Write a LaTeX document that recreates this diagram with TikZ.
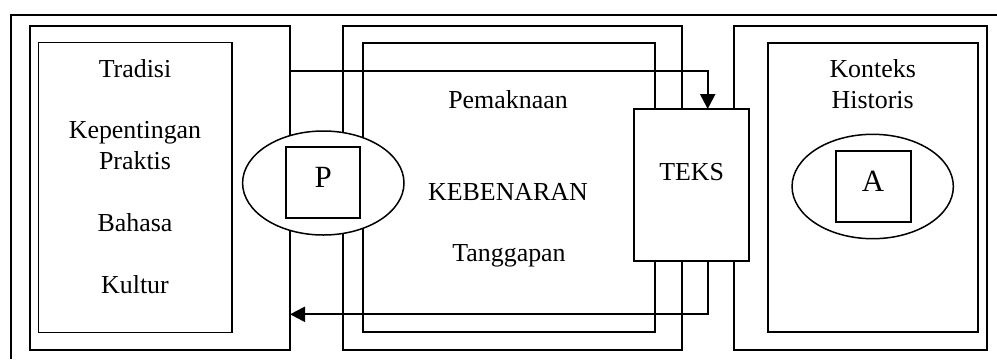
\documentclass[tikz,border=0pt]{standalone}
\usepackage{fontspec}
\setmainfont{Liberation Serif}
\usetikzlibrary{arrows.meta,shapes.geometric}

\tikzset{
  panel/.style={draw, line width=1.8bp, rectangle, inner sep=0pt, outer sep=0pt},
  oval/.style={draw, line width=1.5bp, ellipse, fill=white, inner sep=0pt, outer sep=0pt},
  lbl/.style={inner sep=0pt, anchor=base, font=\fontsize{26}{30}\selectfont},
  biglbl/.style={inner sep=0pt, anchor=base, font=\fontsize{31}{36}\selectfont},
  flow/.style={line width=2.2bp, -{Triangle[length=15bp,width=15bp]}},
}

\begin{document}
\begin{tikzpicture}[x=1bp, y=-1bp]
  \useasboundingbox (0,0) rectangle (997,359);
  \fill[white] (0,0) rectangle (997,359);

  % enclosing frame (open to the right and bottom)
  \draw[line width=2.2bp] (11,359) -- (11,15) -- (997,15);

  % left column
  \node[panel, minimum width=260bp, minimum height=324.3bp] (lo) at (160,187.85) {};
  \node[panel, minimum width=193.5bp, minimum height=290bp] (li) at (135.25,187.5) {};
  % middle column
  \node[panel, minimum width=339bp, minimum height=324.3bp] (mo) at (512.2,187.85) {};
  \node[panel, minimum width=292.3bp, minimum height=289.6bp] (mi) at (508.85,187.5) {};
  % right column
  \node[panel, minimum width=252.4bp, minimum height=324.3bp] (ro) at (860.5,187.85) {};
  \node[panel, minimum width=210bp, minimum height=289.3bp] (ri) at (872.7,187.35) {};

  % left column labels
  \node[lbl] (tradisi) at (135,77) {Tradisi};
  \node[lbl] (kep) at (135,138.5) {Kepentingan};
  \node[lbl] (praktis) at (135,169.5) {Praktis};
  \node[lbl] (bahasa) at (135,231.5) {Bahasa};
  \node[lbl] (kultur) at (135,293) {Kultur};

  % middle column labels
  \node[lbl] (makna) at (508,108.3) {Pemaknaan};
  \node[lbl] (benar) at (508,200) {KEBENARAN};
  \node[lbl] (tanggap) at (509,261.7) {Tanggapan};

  % right column labels
  \node[lbl] (konteks) at (872.7,77.3) {Konteks};
  \node[lbl] (hist) at (872.7,108.3) {Historis};

  % connectors
  \coordinate (topy) at (0,70.7);
  \coordinate (boty) at (0,314.3);
  \coordinate (arrx) at (707.7,0);

  % text box
  \node[panel, fill=white, minimum width=115.3bp, minimum height=152bp] (teks) at (691.65,185) {};
  \node[lbl] (tekslbl) at (691.7,180) {TEKS};

  \draw[flow] (lo.east |- topy) -| (teks.north -| arrx);
  \draw[flow] (teks.south -| arrx) |- (lo.east |- boty);

  % P: ellipse with square
  \node[oval, minimum width=161.4bp, minimum height=104bp] (pell) at (323.3,183) {};
  \node[panel, minimum width=74bp, minimum height=71.3bp] (pbox) at (323,182.65) {};
  \node[biglbl] (plbl) at (323.3,187.7) {P};

  % A: ellipse with square
  \node[oval, minimum width=161.3bp, minimum height=104.4bp] (aell) at (872.7,186.5) {};
  \node[panel, minimum width=74.4bp, minimum height=71.3bp] (abox) at (873.5,186.35) {};
  \node[biglbl] (albl) at (873,191) {A};
\end{tikzpicture}
\end{document}
